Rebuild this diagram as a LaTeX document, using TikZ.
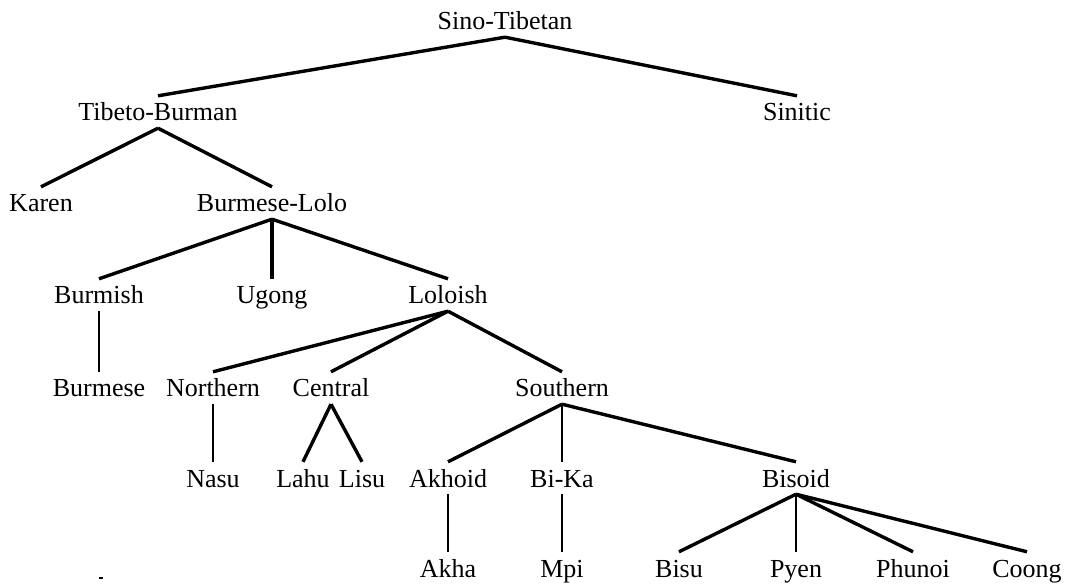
\documentclass[tikz,border=0pt]{standalone}
\usepackage{fontspec}
\setmainfont{Liberation Serif}
\begin{document}
\begin{tikzpicture}[x=1pt,y=-1pt,
        lang/.style={anchor=base,inner xsep=0pt,inner ysep=7pt,text height=18pt,text depth=0pt,font=\fontsize{26}{30}\selectfont},
        branch/.style={line width=3.4pt},
        stem/.style={line width=2.4pt}]
        \useasboundingbox (0,0) rectangle (1069,585);
        \path (505,30) node[lang] (ST) {Sino-Tibetan};
        \path (158,121) node[lang] (TB) {Tibeto-Burman};
        \path (797,121) node[lang] (SN) {Sinitic};
        \path (41,212) node[lang] (KA) {Karen};
        \path (272,212) node[lang] (BL) {Burmese-Lolo};
        \path (99,304) node[lang] (BM) {Burmish};
        \path (272,304) node[lang] (UG) {Ugong};
        \path (448,304) node[lang] (LO) {Loloish};
        \path (99,397) node[lang] (BU) {Burmese};
        \path (213,397) node[lang] (NO) {Northern};
        \path (331,397) node[lang] (CE) {Central};
        \path (562,397) node[lang] (SO) {Southern};
        \path (213,487) node[lang] (NA) {Nasu};
        \path (303,487) node[lang] (LH) {Lahu};
        \path (362,487) node[lang] (LS) {Lisu};
        \path (448,487) node[lang] (AD) {Akhoid};
        \path (562,487) node[lang] (BK) {Bi-Ka};
        \path (796,487) node[lang] (BD) {Bisoid};
        \path (448,577) node[lang] (AK) {Akha};
        \path (562,577) node[lang] (MP) {Mpi};
        \path (679,577) node[lang] (BS) {Bisu};
        \path (796,577) node[lang] (PY) {Pyen};
        \path (913,577) node[lang] (PH) {Phunoi};
        \path (1027,577) node[lang] (CO) {Coong};
        % branches
        \draw[branch] (ST.south) -- (TB.north);
        \draw[branch] (ST.south) -- (SN.north);
        \draw[branch] (TB.south) -- (KA.north);
        \draw[branch] (TB.south) -- (BL.north);
        \draw[branch] (BL.south) -- (BM.north);
        \draw[branch] (BL.south) -- (UG.north);
        \draw[branch] (BL.south) -- (LO.north);
        \draw[stem] (BM.south) -- (BU.north);
        \draw[branch] (LO.south) -- (NO.north);
        \draw[branch] (LO.south) -- (CE.north);
        \draw[branch] (LO.south) -- (SO.north);
        \draw[stem] (NO.south) -- (NA.north);
        \draw[branch] (CE.south) -- (LH.north);
        \draw[branch] (CE.south) -- (LS.north);
        \draw[branch] (SO.south) -- (AD.north);
        \draw[stem] (SO.south) -- (BK.north);
        \draw[branch] (SO.south) -- (BD.north);
        \draw[stem] (AD.south) -- (AK.north);
        \draw[stem] (BK.south) -- (MP.north);
        \draw[branch] (BD.south) -- (BS.north);
        \draw[stem] (BD.south) -- (PY.north);
        \draw[branch] (BD.south) -- (PH.north);
        \draw[branch] (BD.south) -- (CO.north);
        % stray mark
        \fill (99,577) rectangle (103,579);
    \end{tikzpicture}
\end{document}
